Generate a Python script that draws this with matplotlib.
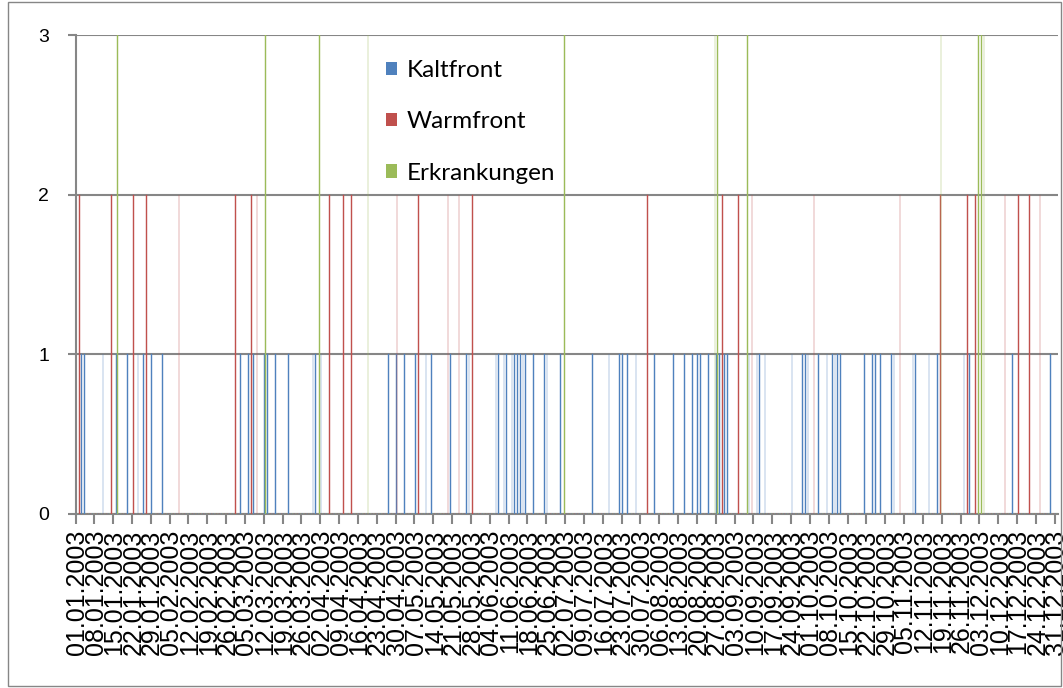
import numpy as np
import pandas as pd
import matplotlib
matplotlib.use("Agg")
import matplotlib.pyplot as plt
from matplotlib.patches import Patch, Rectangle

# day of year (0 = 01.01.2003) on which each event was recorded
kaltfront_days = [2, 3, 10, 15, 19, 23, 25, 28, 32, 61, 64, 66, 70, 71, 74, 79, 88, 89, 91,
                  116, 119, 122, 126, 130, 132, 139, 145, 146, 156, 157, 159, 160, 162, 163,
                  164, 165, 166, 167, 170, 174, 175, 180, 192, 198, 202, 203, 205, 208, 215,
                  222, 226, 229, 231, 232, 235, 238, 239, 241, 242, 250, 253, 254, 256, 266,
                  270, 271, 272, 276, 279, 281, 282, 283, 284, 293, 296, 297, 299, 303, 304,
                  311, 312, 317, 320, 330, 332, 348, 362]
warmfront_days = [1, 13, 21, 26, 38, 59, 65, 67, 94, 99, 102, 119, 127, 138, 142, 147, 212,
                  240, 246, 251, 274, 306, 321, 331, 334, 345, 350, 354, 358]
erkrankungen_days = [15, 70, 90, 108, 181, 237, 238, 249, 321, 335, 336, 337]

kaltfront_value = 1
warmfront_value = 2
erkrankungen_value = 3

dates = pd.date_range("2003-01-01", "2003-12-31", freq="D")
n = len(dates)

kalt = np.zeros(n)
kalt[kaltfront_days] = kaltfront_value
warm = np.zeros(n)
warm[warmfront_days] = warmfront_value
erk = np.zeros(n)
erk[erkrankungen_days] = erkrankungen_value

blue = "#4F81BD"
red = "#C0504D"
green = "#9BBB59"
grey = "#868686"

fig = plt.figure(figsize=(10.63, 6.88), dpi=100)
ax = fig.add_axes([75.5 / 1063, 1 - 514 / 688, (1057.5 - 75.5) / 1063, (514 - 35) / 688])

x = np.arange(n)
w = 0.25
ax.bar(x - 0.22, kalt, width=w, color=blue, edgecolor=blue, linewidth=0.3, zorder=3)
ax.bar(x, warm, width=w, color=red, edgecolor=red, linewidth=0.3, zorder=3)
ax.bar(x + 0.22, erk, width=w, color=green, edgecolor=green, linewidth=0.3, zorder=3)

ax.set_xlim(-0.5, n - 0.5)
ax.set_ylim(0, 3)
ax.set_yticks([0, 1, 2, 3])
ax.set_yticklabels(["0", "1", "2", "3"], fontsize=14, family="Liberation Sans")
ax.tick_params(axis="y", length=6, width=1.5, color=grey, pad=13)
ax.grid(True, axis="y", color=grey, linewidth=1.5, zorder=1)

label_pos = np.arange(0, n, 7)
ax.set_xticks(label_pos)
ax.set_xticklabels([dates[i].strftime("%d.%m.%Y") for i in label_pos], rotation=90,
                   fontsize=18, family="Liberation Sans")
ax.tick_params(axis="x", which="major", length=0, pad=11)
ax.set_xticks(np.arange(-0.5, n, 7), minor=True)
ax.tick_params(axis="x", which="minor", length=7, width=1.5, color=grey)

for s in ["top", "right"]:
    ax.spines[s].set_visible(False)
for s in ["left", "bottom"]:
    ax.spines[s].set_color(grey)
    ax.spines[s].set_linewidth(1.5)

handles = [Patch(facecolor=blue, label="Kaltfront"),
           Patch(facecolor=red, label="Warmfront"),
           Patch(facecolor=green, label="Erkrankungen")]
ax.legend(handles=handles, loc="upper left", bbox_to_anchor=(364 / 1063, 1 - 38 / 688),
          bbox_transform=fig.transFigure, frameon=False,
          prop={"family": "Lato", "size": 17.5}, handlelength=0.45, handleheight=0.45,
          handletextpad=0.4, labelspacing=1.25)

fig.add_artist(Rectangle((8 / 1063, 2 / 688), 1053 / 1063, 684 / 688, transform=fig.transFigure,
                         fill=False, edgecolor=grey, linewidth=1))

fig.savefig("out.png", dpi=100)
